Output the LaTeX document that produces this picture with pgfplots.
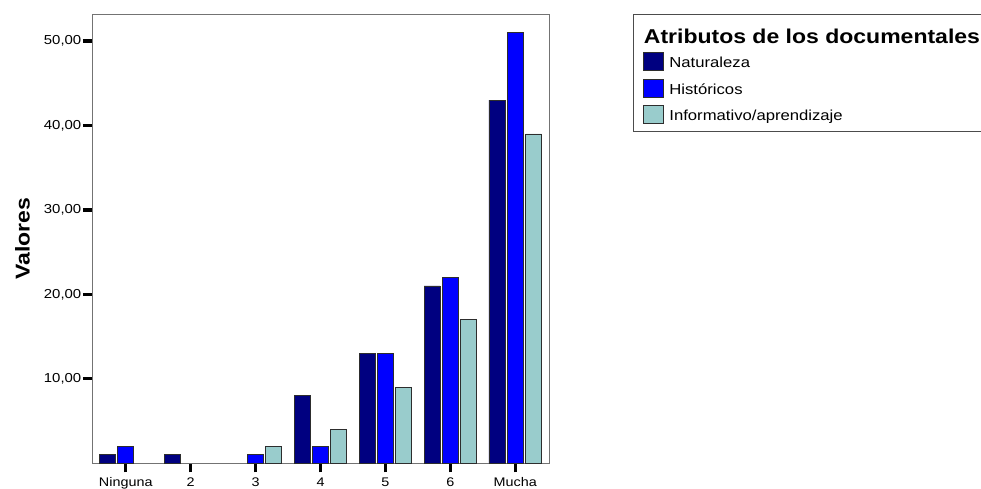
\documentclass[border=0pt]{standalone}
\usepackage{fontspec}
\setmainfont{Liberation Sans}[FakeStretch=1.15]
\usepackage{pgfplots}
\pgfplotsset{compat=1.18}
\definecolor{naturaleza}{RGB}{0,0,128}
\definecolor{historicos}{RGB}{0,0,255}
\definecolor{informativo}{RGB}{153,204,204}
\definecolor{barline}{RGB}{45,45,45}

\begin{document}
\begin{tikzpicture}
\useasboundingbox (0,0) rectangle (981pt,489pt);
\begin{axis}[
  at={(92pt,25.7pt)}, anchor=south west,
  width=457pt, height=449.3pt, scale only axis,
  ybar=2.3pt, bar width=16pt,
  xmin=-0.52, xmax=6.52, ymin=0, ymax=53.2,
  xtick={0,...,6}, xticklabels={Ninguna,2,3,4,5,6,Mucha},
  ytick={10,20,30,40,50},
  yticklabels={{10,00},{20,00},{30,00},{40,00},{50,00}},
  tick pos=left, tick align=outside,
  major tick length=9pt,
  major tick style={black, line width=3.2pt},
  axis line style={black!55, line width=0.8pt},
  yticklabel style={font=\fontsize{13}{13}\selectfont, inner sep=1.5pt},
  xticklabel style={font=\fontsize{12.5}{12.5}\selectfont, yshift=-2pt},
  ylabel={Valores},
  ylabel style={font=\fontsize{20}{20}\selectfont\bfseries,
    at={(axis description cs:-0.152,0.5)}, anchor=center},
  legend style={at={(axis description cs:1.1838,1)}, anchor=north west,
    draw=black!70, line width=0.8pt,
    inner xsep=9.7pt, inner ysep=7.5pt, row sep=7.6pt, column sep=5.5pt,
    font=\fontsize{14.5}{17}\selectfont,
    nodes={inner sep=0pt, text height=15.3pt, text depth=2.7pt},
    cells={anchor=west}},
  legend cell align=left,
  legend image code/.code={\draw[#1, line width=0.8pt] (0pt,-9pt) rectangle (20pt,9pt);},
]
\addlegendimage{empty legend}
\addlegendentry[text height=21.3pt, text depth=1.4pt, font=\fontsize{20}{20}\selectfont\bfseries]{\hspace*{-25.5pt}Atributos de los documentales\hspace*{20pt}}

\addplot[fill=naturaleza, draw=barline, line width=0.8pt]
  coordinates {(0,1) (1,1) (3,8) (4,13) (5,21) (6,43)};
\addlegendentry{Naturaleza}
\addplot[fill=historicos, draw=barline, line width=0.8pt]
  coordinates {(0,2) (2,1) (3,2) (4,13) (5,22) (6,51)};
\addlegendentry{Históricos}
\addplot[fill=informativo, draw=barline, line width=0.8pt]
  coordinates {(2,2) (3,4) (4,9) (5,17) (6,39)};
\addlegendentry{Informativo/aprendizaje}
\end{axis}
\end{tikzpicture}
\end{document}
